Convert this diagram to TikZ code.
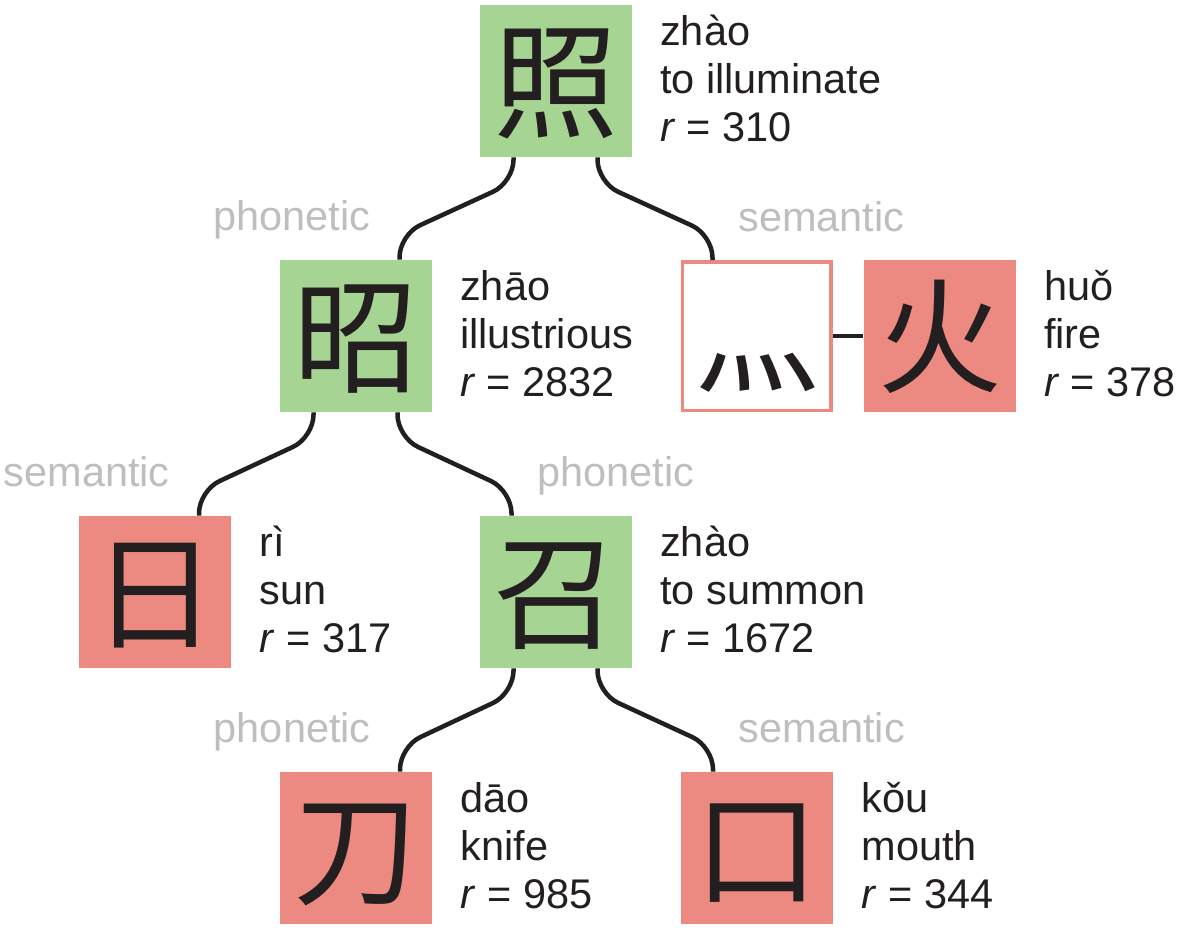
\documentclass[tikz,border=0pt]{standalone}
\usepackage{fontspec}
\setmainfont{Liberation Sans}
\newfontfamily\hanzifont{Noto Sans CJK SC}
\definecolor{phongreen}{HTML}{A6D492}
\definecolor{semred}{HTML}{EC8980}
\definecolor{rolegray}{HTML}{BEBEBE}
\definecolor{ink}{HTML}{231F20}
\begin{document}
\begin{tikzpicture}[every node/.style={font=\fontsize{23.6}{27.3}\selectfont, text=ink},
  hanzi/.style={minimum size=3.04cm, inner sep=0pt, font=\hanzifont\fontsize{71}{71}\selectfont,
    text height=62.5pt, text depth=8.5pt},
  phon/.style={hanzi, fill=phongreen},
  sem/.style={hanzi, fill=semred},
  radical/.style={hanzi, draw=semred, line width=0.07cm, fill=white, minimum size=2.97cm},
  link/.style={draw=ink, line width=0.09cm, rounded corners=0.45cm},
  role/.style={text=rolegray, inner sep=0pt},
  gloss/.style={align=left, inner sep=0pt, anchor=base west}]
\useasboundingbox (0,0) rectangle (23.58,-18.88);
\node[phon] (illuminate) at (11.11,-1.62) {照};
\node[phon] (illustrious) at (7.11,-6.72) {昭};
\node[radical] (fireRad) at (15.13,-6.72) {灬};
\node[sem] (fire) at (18.79,-6.72) {火};
\node[sem] (sun) at (3.10,-11.84) {日};
\node[phon] (summon) at (11.11,-11.84) {召};
\node[sem] (knife) at (7.12,-16.96) {刀};
\node[sem] (mouth) at (15.14,-16.96) {口};
% glosses (base = last line)
\node[gloss] (gIlluminate) at ([xshift=0.56cm, yshift=-2.74cm]illuminate.north east) {zhào\\to illuminate\\\textit{r} = 310};
\node[gloss] (gIllustrious) at ([xshift=0.56cm, yshift=-2.74cm]illustrious.north east) {zhāo\\illustrious\\\textit{r} = 2832};
\node[gloss] (gFire) at ([xshift=0.56cm, yshift=-2.74cm]fire.north east) {huǒ\\fire\\\textit{r} = 378};
\node[gloss] (gSun) at ([xshift=0.56cm, yshift=-2.74cm]sun.north east) {rì\\sun\\\textit{r} = 317};
\node[gloss] (gSummon) at ([xshift=0.56cm, yshift=-2.74cm]summon.north east) {zhào\\to summon\\\textit{r} = 1672};
\node[gloss] (gKnife) at ([xshift=0.56cm, yshift=-2.74cm]knife.north east) {dāo\\knife\\\textit{r} = 985};
\node[gloss] (gMouth) at ([xshift=0.56cm, yshift=-2.74cm]mouth.north east) {kǒu\\mouth\\\textit{r} = 344};
% links
\draw[link] ([xshift=-0.84cm]illuminate.south) -- ++(0,-0.5) -- ([xshift=0.88cm, yshift=0.5cm]illustrious.north) -- ([xshift=0.88cm]illustrious.north);
\draw[link] ([xshift=0.84cm]illuminate.south) -- ++(0,-0.5) -- ([xshift=-0.88cm, yshift=0.5cm]fireRad.north) -- ([xshift=-0.88cm]fireRad.north);
\draw[link] ([xshift=-0.84cm]illustrious.south) -- ++(0,-0.5) -- ([xshift=0.88cm, yshift=0.5cm]sun.north) -- ([xshift=0.88cm]sun.north);
\draw[link] ([xshift=0.84cm]illustrious.south) -- ++(0,-0.5) -- ([xshift=-0.88cm, yshift=0.5cm]summon.north) -- ([xshift=-0.88cm]summon.north);
\draw[link] ([xshift=-0.84cm]summon.south) -- ++(0,-0.5) -- ([xshift=0.88cm, yshift=0.5cm]knife.north) -- ([xshift=0.88cm]knife.north);
\draw[link] ([xshift=0.84cm]summon.south) -- ++(0,-0.5) -- ([xshift=-0.88cm, yshift=0.5cm]mouth.north) -- ([xshift=-0.88cm]mouth.north);
\draw[link] (fireRad) -- (fire);
% roles
\node[role, anchor=base east] (rIllustrious) at ([xshift=0.3cm, yshift=0.58cm]illustrious.north) {phonetic};
\node[role, anchor=base west] (rFireRad) at ([xshift=-0.37cm, yshift=0.58cm]fireRad.north) {semantic};
\node[role, anchor=base east] (rSun) at ([xshift=0.3cm, yshift=0.58cm]sun.north) {semantic};
\node[role, anchor=base west] (rSummon) at ([xshift=-0.37cm, yshift=0.58cm]summon.north) {phonetic};
\node[role, anchor=base east] (rKnife) at ([xshift=0.3cm, yshift=0.58cm]knife.north) {phonetic};
\node[role, anchor=base west] (rMouth) at ([xshift=-0.37cm, yshift=0.58cm]mouth.north) {semantic};
\end{tikzpicture}
\end{document}
